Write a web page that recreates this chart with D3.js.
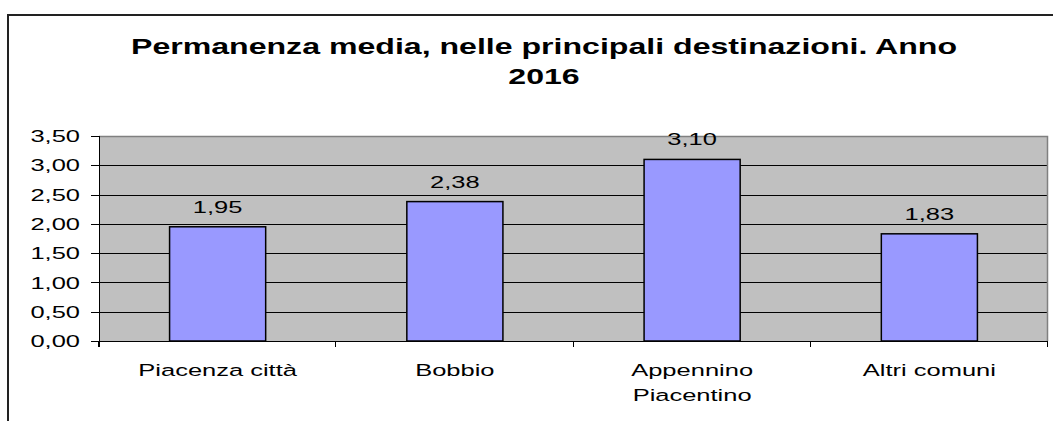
<!DOCTYPE html>
<html>
<head>
<meta charset="utf-8">
<script src="https://cdn.jsdelivr.net/npm/d3@7"></script>
<style>
  body { margin: 0; background: #fff; }
  svg text { font-family: "Liberation Sans", Arial, sans-serif; fill: #000; }
</style>
</head>
<body>
<div id="chart"></div>
<script>
// data
const categories = ["Piacenza città", "Bobbio", "Appennino\nPiacentino", "Altri comuni"];
const values = [1.95, 2.38, 3.10, 1.83];
const yTicks = [0, 0.5, 1, 1.5, 2, 2.5, 3, 3.5];
const titleLines = ["Permanenza media, nelle principali destinazioni. Anno", "2016"];

const width = 1053, height = 421;
// the original text is stretched horizontally
const stretch = 1.5;

const margin = { top: 136, right: 5, bottom: 80, left: 99 };
const plotW = width - margin.left - margin.right;
const plotH = height - margin.top - margin.bottom;

const it = d3.formatLocale({ decimal: ",", thousands: ".", grouping: [3], currency: ["€", ""] });
const fmt = it.format(".2f");

const svg = d3.select("#chart").append("svg")
  .attr("width", width)
  .attr("height", height);

// outer chart frame (cropped on right and bottom)
svg.append("path")
  .attr("d", `M8,${height + 2} V15 H${width + 2}`)
  .attr("fill", "none")
  .attr("stroke", "#222")
  .attr("stroke-width", 2);

// title
titleLines.forEach((t, i) => {
  svg.append("g")
    .attr("transform", `translate(544, ${54 + i * 30}) scale(${stretch},1)`)
    .append("text")
    .attr("text-anchor", "middle")
    .style("font-size", "21.4px")
    .style("font-weight", "bold")
    .text(t);
});

const g = svg.append("g").attr("transform", `translate(${margin.left}, ${margin.top})`);

const x = d3.scaleBand()
  .domain(categories)
  .range([0, plotW])
  .paddingInner(0.595)
  .paddingOuter(0.2975);

const y = d3.scaleLinear()
  .domain([0, 3.5])
  .range([plotH, 0]);

// plot background
g.append("rect")
  .attr("x", 0).attr("y", 0)
  .attr("width", plotW).attr("height", plotH)
  .attr("fill", "#c0c0c0");

// gridlines
g.selectAll(".grid")
  .data(yTicks.filter(d => d > 0 && d < 3.5))
  .enter().append("line")
  .attr("class", "grid")
  .attr("x1", 0).attr("x2", plotW)
  .attr("y1", d => Math.round(y(d)) + 0.5)
  .attr("y2", d => Math.round(y(d)) + 0.5)
  .attr("stroke", "#000")
  .attr("stroke-width", 1);

// plot border top and right
g.append("path")
  .attr("d", `M0,0.5 H${plotW - 0.5} V${plotH}`)
  .attr("fill", "none")
  .attr("stroke", "#808080")
  .attr("stroke-width", 1.5);

// bars
g.selectAll(".bar")
  .data(values)
  .enter().append("rect")
  .attr("class", "bar")
  .attr("x", (d, i) => x(categories[i]))
  .attr("y", d => y(d))
  .attr("width", x.bandwidth())
  .attr("height", d => plotH - y(d))
  .attr("fill", "#9999ff")
  .attr("stroke", "#000")
  .attr("stroke-width", 1.5);

// value labels
g.selectAll(".val")
  .data(values)
  .enter().append("g")
  .attr("transform", (d, i) => `translate(${x(categories[i]) + x.bandwidth() / 2}, ${y(d) - 14}) scale(${stretch},1)`)
  .append("text")
  .attr("text-anchor", "middle")
  .style("font-size", "17px")
  .text(d => fmt(d));

// y axis
const yAxis = g.append("g");
yAxis.append("line")
  .attr("x1", 0.5).attr("x2", 0.5)
  .attr("y1", 0).attr("y2", plotH + 6)
  .attr("stroke", "#000");
yAxis.selectAll(".ytick")
  .data(yTicks)
  .enter().append("line")
  .attr("x1", -8).attr("x2", 0)
  .attr("y1", d => Math.round(y(d)) + 0.5)
  .attr("y2", d => Math.round(y(d)) + 0.5)
  .attr("stroke", "#000");
yAxis.selectAll(".ylab")
  .data(yTicks)
  .enter().append("g")
  .attr("transform", d => `translate(-19, ${y(d)}) scale(${stretch},1)`)
  .append("text")
  .attr("text-anchor", "end")
  .attr("dy", "0.36em")
  .style("font-size", "17px")
  .text(d => fmt(d));

// x axis
const step = x.step();
const bounds = d3.range(categories.length + 1).map(i => i * step);
g.append("line")
  .attr("x1", 0).attr("x2", plotW)
  .attr("y1", plotH + 0.5).attr("y2", plotH + 0.5)
  .attr("stroke", "#000");
g.selectAll(".xtick")
  .data(bounds)
  .enter().append("line")
  .attr("x1", d => Math.round(d) - 0.5)
  .attr("x2", d => Math.round(d) - 0.5)
  .attr("y1", plotH).attr("y2", plotH + 6)
  .attr("stroke", "#000");

const xl = g.selectAll(".xlab")
  .data(categories)
  .enter().append("g")
  .attr("transform", d => `translate(${x(d) + x.bandwidth() / 2}, ${plotH + 35}) scale(${stretch},1)`)
  .append("text")
  .attr("text-anchor", "middle")
  .style("font-size", "17px");
xl.selectAll("tspan")
  .data(d => d.split("\n"))
  .enter().append("tspan")
  .attr("x", 0)
  .attr("dy", (d, i) => i === 0 ? 0 : 25.5)
  .text(d => d);
</script>
</body>
</html>
